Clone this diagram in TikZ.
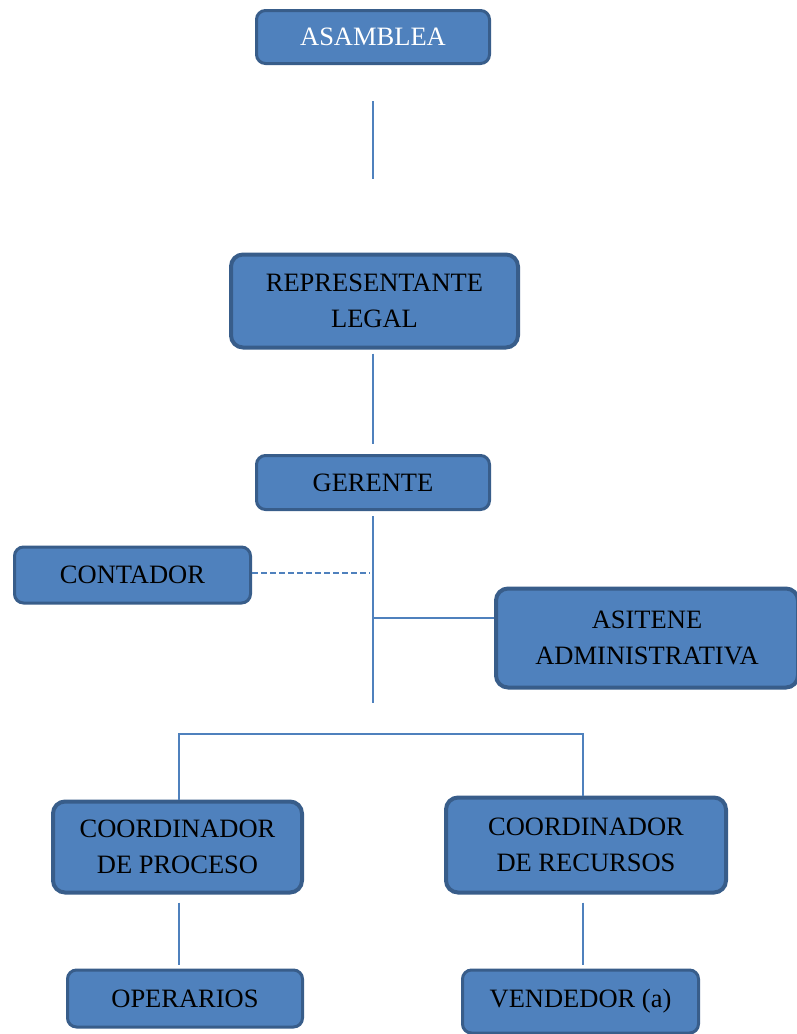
\documentclass[tikz,border=0pt]{standalone}
\usepackage{fontspec}
\setmainfont{Liberation Serif}
\definecolor{boxfill}{RGB}{79,129,189}
\definecolor{boxedge}{RGB}{56,93,138}
\definecolor{linkcol}{RGB}{79,129,189}
\begin{document}
\begin{tikzpicture}[x=1pt,y=-1pt,
  orgbox/.style={rectangle, rounded corners=9pt, fill=boxfill, draw=boxedge,
    line width=3pt, align=center, inner sep=0pt,
    font=\fontsize{26.5}{36}\selectfont},
  bigbox/.style={orgbox, line width=4pt, rounded corners=12pt},
  link/.style={draw=linkcol, line width=1.5pt},
  dashlink/.style={draw=linkcol, line width=2.2pt, dash pattern=on 6pt off 3pt}]
\useasboundingbox (0,0) rectangle (796,1034);
\fill[white] (0,0) rectangle (796,1034);

% boxes
\node[orgbox, minimum width=233, minimum height=53, text=white] (asamblea) at (373,37) {ASAMBLEA};
\node[bigbox, minimum width=287, minimum height=93] (rep) at (374.5,301) {REPRESENTANTE\\LEGAL};
\node[orgbox, minimum width=233, minimum height=54] (gerente) at (373,482.5) {GERENTE};
\node[orgbox, minimum width=236, minimum height=56] (contador) at (132.5,575) {CONTADOR};
\node[bigbox, minimum width=302, minimum height=99] (asitene) at (647,638) {ASITENE\\ADMINISTRATIVA};
\node[bigbox, minimum width=249, minimum height=91] (proc) at (177.5,847) {COORDINADOR\\DE PROCESO};
\node[bigbox, minimum width=280, minimum height=95] (rec) at (586,845) {COORDINADOR\\DE RECURSOS};
\node[orgbox, minimum width=235, minimum height=57] (oper) at (185,998.5) {OPERARIOS};
\node[orgbox, minimum width=236, minimum height=63] (vend) at (580.5,1001.5) {VENDEDOR (a)};

% connectors
\coordinate (spine) at (373,0);
\draw[link] ([yshift=-36pt]asamblea.south -| spine) -- ([yshift=74pt]rep.north -| spine);
\draw[link] ([yshift=-4pt]rep.south -| spine) -- ([yshift=10pt]gerente.north -| spine);
\coordinate (trunkend) at (373,703);
\draw[link] ([yshift=-5pt]gerente.south -| spine) -- (trunkend);
\coordinate (cjoin) at (370,573);
\draw[dashlink] (contador.east |- cjoin) -- (cjoin);
\coordinate (ajoin) at (373,618);
\draw[link] (ajoin) -- (ajoin -| asitene.west);
\coordinate (bl) at (179,734);
\coordinate (br) at (583,734);
\draw[link] (proc.north -| bl) -- (bl) -- (br) -- (rec.north -| br);
\draw[link] ([yshift=-8pt]proc.south -| bl) -- ([yshift=4pt]oper.north -| bl);
\draw[link] ([yshift=-8pt]rec.south -| br) -- ([yshift=4pt]vend.north -| br);
\end{tikzpicture}
\end{document}
